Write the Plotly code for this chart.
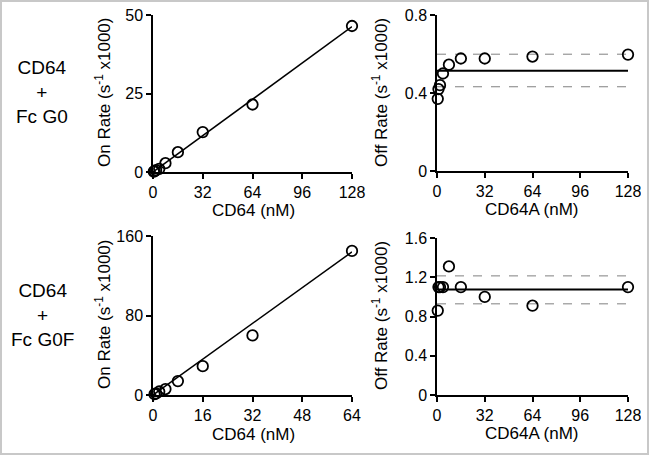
import plotly.graph_objects as go

# window is 649x455; the page body keeps its default 8px margin, so the figure is 16px smaller
OFF = 8
W, H = 649 - 2 * OFF, 455 - 2 * OFF

# ---- data ----
conc_g0 = [0.5, 1, 2, 4, 8, 16, 32, 64, 128]
on_g0 = [0.1, 0.3, 0.6, 1.0, 2.8, 6.3, 12.7, 21.5, 46.5]
off_g0 = [0.37, 0.42, 0.44, 0.50, 0.545, 0.577, 0.577, 0.587, 0.597]

conc_g0f_on = [0.5, 1, 2, 4, 8, 16, 32, 64]
on_g0f = [0.8, 1.5, 3.5, 6, 14, 29, 60, 145]
conc_g0f_off = [0.5, 1, 2, 4, 8, 16, 32, 64, 128]
off_g0f = [0.86, 1.10, 1.10, 1.10, 1.31, 1.10, 1.00, 0.91, 1.10]

fit_x_g0 = [0, 128]
fit_on_g0 = [0, 46.3]
fit_x_g0f = [0, 64]
fit_on_g0f = [0, 144]

band_x = [0, 128]
off_g0_mean, off_g0_lo, off_g0_hi = 0.514, 0.432, 0.599
off_g0f_mean, off_g0f_lo, off_g0f_hi = 1.075, 0.929, 1.214

row_labels = ["CD64<br>+<br>Fc G0", "CD64<br>+<br>Fc G0F"]

FONT = "Liberation Sans, Arial, sans-serif"
TICK = 16
TITLE = 17

def px_x(p):
    return (p - OFF) / W

def px_y(p):
    return 1 - (p - OFF) / H

fig = go.Figure()

# panel pixel boxes in window coords: (x0, x1, ytop, ybottom)
panels = {
    "1": (153, 352, 15, 172),
    "2": (437, 628, 15, 171),
    "3": (153, 352, 236, 395),
    "4": (437, 628, 238, 395),
}

marker = dict(symbol="circle-open", size=10.5, color="black", line=dict(width=1.8, color="black"))

def add_scatter(ax, x, y):
    fig.add_trace(go.Scatter(x=x, y=y, mode="markers", marker=marker, cliponaxis=False,
                             xaxis="x" + ax, yaxis="y" + ax, showlegend=False))

def add_line(ax, x, y, width=1.5, color="black", dash="solid"):
    fig.add_trace(go.Scatter(x=x, y=y, mode="lines", line=dict(width=width, color=color, dash=dash),
                             cliponaxis=False, xaxis="x" + ax, yaxis="y" + ax, showlegend=False))

# Panel 1
add_line("1", fit_x_g0, fit_on_g0)
add_scatter("1", conc_g0, on_g0)
# Panel 2
add_line("2", band_x, [off_g0_hi] * 2, 1, "#808080", "dash")
add_line("2", band_x, [off_g0_lo] * 2, 1, "#808080", "dash")
add_line("2", band_x, [off_g0_mean] * 2, 2)
add_scatter("2", conc_g0, off_g0)
# Panel 3
add_line("3", fit_x_g0f, fit_on_g0f)
add_scatter("3", conc_g0f_on, on_g0f)
# Panel 4
add_line("4", band_x, [off_g0f_hi] * 2, 1, "#808080", "dash")
add_line("4", band_x, [off_g0f_lo] * 2, 1, "#808080", "dash")
add_line("4", band_x, [off_g0f_mean] * 2, 2)
add_scatter("4", conc_g0f_off, off_g0f)

xticks = {
    "1": ([0, 32, 64, 96, 128], [0, 128]),
    "2": ([0, 32, 64, 96, 128], [0, 128]),
    "3": ([0, 16, 32, 48, 64], [0, 64]),
    "4": ([0, 32, 64, 96, 128], [0, 128]),
}
yticks = {
    "1": ([0, 25, 50], ["0", "25", "50"], [0, 50]),
    "2": ([0, 0.4, 0.8], ["0", "0.4", "0.8"], [0, 0.8]),
    "3": ([0, 80, 160], ["0", "80", "160"], [0, 160]),
    "4": ([0, 0.4, 0.8, 1.2, 1.6], ["0", "0.4", "0.8", "1.2", "1.6"], [0, 1.6]),
}

axcommon = dict(showline=True, linecolor="black", linewidth=1.5, ticks="outside", ticklen=5,
                tickwidth=1.5, tickcolor="black", showgrid=False, zeroline=False,
                tickfont=dict(family=FONT, size=TICK, color="black"), fixedrange=True,
                automargin=False, ticklabeloverflow="allow")

layout = {}
for ax, (x0, x1, yt, yb) in panels.items():
    xname = "xaxis" if ax == "1" else "xaxis" + ax
    yname = "yaxis" if ax == "1" else "yaxis" + ax
    tv, rng = xticks[ax]
    layout[xname] = dict(domain=[px_x(x0), px_x(x1)], range=rng, tickvals=tv,
                         anchor="y" + ("" if ax == "1" else ax), **axcommon)
    ytv, ytt, yr = yticks[ax]
    layout[yname] = dict(domain=[px_y(yb), px_y(yt)], range=yr, tickvals=ytv, ticktext=ytt,
                         anchor="x" + ("" if ax == "1" else ax), **axcommon)

annotations = []
def ann(text, x, y, size=TITLE, angle=0):
    annotations.append(dict(text=text, x=px_x(x), y=px_y(y), xref="paper", yref="paper",
                            showarrow=False, textangle=angle, xanchor="center", yanchor="middle",
                            align="center", font=dict(family=FONT, size=size, color="black")))

ann("On Rate (s<sup>-1</sup> x1000)", 103, 93, angle=-90)
ann("Off Rate (s<sup>-1</sup> x1000)", 380, 93, angle=-90)
ann("On Rate (s<sup>-1</sup> x1000)", 103, 315, angle=-90)
ann("Off Rate (s<sup>-1</sup> x1000)", 380, 316, angle=-90)
ann("CD64 (nM)", 253, 210)
ann("CD64A (nM)", 532, 209)
ann("CD64 (nM)", 253, 434)
ann("CD64A (nM)", 532, 433)

ann(row_labels[0], 42, 92, size=19)
ann(row_labels[1], 42, 315, size=19)

fig.update_layout(
    width=W, height=H,
    margin=dict(l=0, r=0, t=0, b=0),
    paper_bgcolor="white", plot_bgcolor="white",
    showlegend=False,
    annotations=annotations,
    **layout,
)

fig.write_html("out.html", config={"displayModeBar": False},
               post_script="document.documentElement.style.boxShadow='inset 0 0 0 2px #c8c8c8';")
